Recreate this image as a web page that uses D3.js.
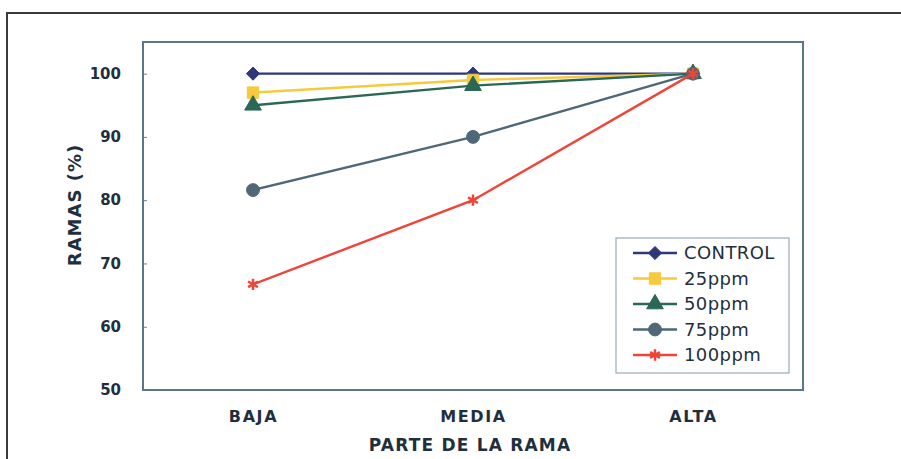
<!DOCTYPE html>
<html>
<head>
<meta charset="utf-8">
<script src="https://cdnjs.cloudflare.com/ajax/libs/d3/7.8.5/d3.min.js"></script>
<style>
	body { margin: 0; background: #fff; }
	svg { display: block; }
</style>
</head>
<body>
<div id="chart"></div>
<script>
// data
var parts = ['BAJA', 'MEDIA', 'ALTA'];
var seriesNames = ['CONTROL', '25ppm', '50ppm', '75ppm', '100ppm'];
var control = [100, 100, 100];
var ppm25 = [97, 99, 100];
var ppm50 = [95, 98.1, 100];
var ppm75 = [81.6, 90, 100];
var ppm100 = [66.7, 80, 100];
var yTicks = [50, 60, 70, 80, 90, 100];

var buildChart = function (el) {
	'use strict';

	var W = 901, H = 459;
	var margin = {top: 42, right: 98, bottom: 69, left: 143};
	var width = W - margin.left - margin.right,
		height = H - margin.top - margin.bottom;
	var textColor = '#1f2f3e';
	var boldFont = '"DejaVu Sans", Verdana, sans-serif';

	var styles = [
		{color: '#2e3878', symbol: d3.symbolDiamond2, size: 110, fill: true},
		{color: '#f7c93c', symbol: d3.symbolSquare, size: 130, fill: true},
		{color: '#2a6757', symbol: d3.symbolTriangle, size: 120, fill: true},
		{color: '#4e6877', symbol: d3.symbolCircle, size: 130, fill: true},
		{color: '#ef4438', symbol: d3.symbolAsterisk, size: 90, fill: false}
	];
	var values = [control, ppm25, ppm50, ppm75, ppm100];

	var series = seriesNames.map(function (name, i) {
		return {
			name: name,
			style: styles[i],
			values: values[i].map(function (v, j) { return {part: parts[j], value: v}; })
		};
	});

	var x = d3.scalePoint().domain(parts).range([0, width]).padding(0.5);
	var y = d3.scaleLinear().domain([50, 105]).range([height, 0]);

	var svg = d3.select(el).append('svg')
		.attr('width', W)
		.attr('height', H);

	// outer frame of the scanned figure
	svg.append('rect')
		.attr('x', 7).attr('y', 13)
		.attr('width', W).attr('height', H)
		.attr('fill', 'none')
		.attr('stroke', '#3a3a3a')
		.attr('stroke-width', 2);

	var g = svg.append('g')
		.attr('transform', 'translate(' + margin.left + ',' + margin.top + ')');

	var yAxis = g.append('g')
		.call(d3.axisLeft(y).tickValues(yTicks).tickSizeInner(-4).tickSizeOuter(0).tickPadding(22));
	yAxis.select('.domain').remove();
	yAxis.selectAll('.tick line').attr('stroke', '#6a8498').attr('stroke-width', 1);
	yAxis.selectAll('.tick text')
		.attr('fill', textColor)
		.style('font', 'bold 15px ' + boldFont);

	var xAxis = g.append('g')
		.attr('transform', 'translate(0,' + height + ')')
		.call(d3.axisBottom(x).tickSize(0).tickPadding(21));
	xAxis.select('.domain').remove();
	xAxis.selectAll('.tick text')
		.attr('fill', textColor)
		.style('font', 'bold 16px ' + boldFont)
		.style('letter-spacing', '1.6px');

	// plot frame
	g.append('rect')
		.attr('width', width).attr('height', height)
		.attr('fill', 'none')
		.attr('stroke', '#5b7689')
		.attr('stroke-width', 2);

	g.append('text')
		.attr('transform', 'rotate(-90)')
		.attr('x', -163)
		.attr('y', -68)
		.attr('text-anchor', 'middle')
		.attr('dy', '0.35em')
		.attr('fill', textColor)
		.style('font', 'bold 18px ' + boldFont)
		.style('letter-spacing', '1px')
		.text('RAMAS (%)');

	g.append('text')
		.attr('x', width / 2 - 3)
		.attr('y', height + 55)
		.attr('text-anchor', 'middle')
		.attr('dy', '0.35em')
		.attr('fill', textColor)
		.style('font', 'bold 17px ' + boldFont)
		.style('letter-spacing', '1.2px')
		.text('PARTE DE LA RAMA');

	var line = d3.line()
		.x(function (d) { return x(d.part); })
		.y(function (d) { return y(d.value); });

	var groups = g.selectAll('.serie')
		.data(series)
		.enter().append('g')
			.attr('class', 'serie');

	groups.append('path')
		.attr('d', function (d) { return line(d.values); })
		.attr('fill', 'none')
		.attr('stroke', function (d) { return d.style.color; })
		.attr('stroke-width', 2.4);

	function drawMarker(sel, st) {
		sel.attr('d', d3.symbol().type(st.symbol).size(st.size))
			.attr('fill', st.fill ? st.color : 'none')
			.attr('stroke', st.color)
			.attr('stroke-width', st.fill ? 1 : 2.5);
	}

	groups.each(function (d) {
		d3.select(this).selectAll('.marker')
			.data(d.values)
			.enter().append('path')
				.attr('class', 'marker')
				.attr('transform', function (p) { return 'translate(' + x(p.part) + ',' + y(p.value) + ')'; })
				.call(drawMarker, d.style);
	});

	// legend
	var lx = 616 - margin.left, ly = 238 - margin.top;
	var legend = g.append('g').attr('transform', 'translate(' + lx + ',' + ly + ')');
	legend.append('rect')
		.attr('width', 173).attr('height', 135)
		.attr('fill', '#fff')
		.attr('stroke', '#9aabb8')
		.attr('stroke-width', 1.2);

	var items = legend.selectAll('.item')
		.data(series)
		.enter().append('g')
			.attr('class', 'item')
			.attr('transform', function (d, i) { return 'translate(0,' + (15 + i * 25.5) + ')'; });

	items.append('line')
		.attr('x1', 17).attr('x2', 61)
		.attr('stroke', function (d) { return d.style.color; })
		.attr('stroke-width', 2.4);
	items.append('path')
		.attr('transform', 'translate(39,0)')
		.each(function (d) { d3.select(this).call(drawMarker, d.style); });
	items.append('text')
		.attr('x', 68)
		.attr('dy', '0.36em')
		.attr('fill', textColor)
		.style('font', '18px "DejaVu Sans", Verdana, sans-serif')
		.style('letter-spacing', '0.4px')
		.text(function (d) { return d.name; });
};

buildChart('#chart');
</script>
</body>
</html>
